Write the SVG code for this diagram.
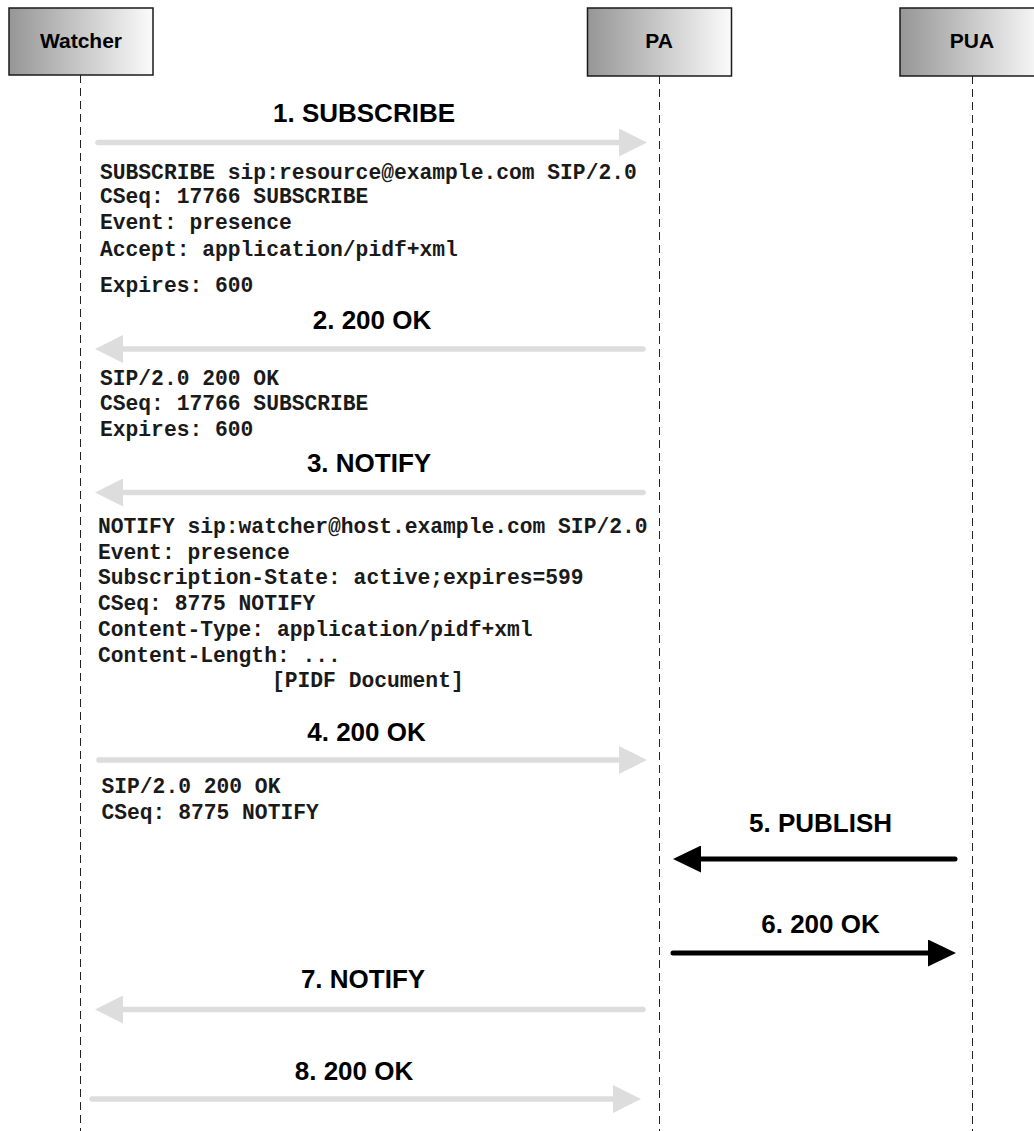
<svg xmlns="http://www.w3.org/2000/svg" width="1034" height="1131" viewBox="0 0 1034 1131">
<defs>
<linearGradient id="hdr" x1="0" y1="0" x2="1" y2="0">
<stop offset="0" stop-color="#969696"/>
<stop offset="1" stop-color="#fbfbfb"/>
</linearGradient>
<marker id="gh" viewBox="0 0 28 28" refX="0" refY="14" markerWidth="28" markerHeight="28" markerUnits="userSpaceOnUse" orient="auto">
<path d="M0,0 L28,14 L0,28 z" fill="#dddddd"/>
</marker>
<marker id="bh" viewBox="0 0 28 27" refX="0" refY="13.5" markerWidth="28" markerHeight="27" markerUnits="userSpaceOnUse" orient="auto">
<path d="M0,0 L28,13.5 L0,27 z" fill="#000"/>
</marker>
</defs>
<style>
.box{fill:url(#hdr);stroke:#1a1a1a;stroke-width:1.5}
.name{font-family:"Liberation Sans",Arial,sans-serif;font-weight:bold;font-size:21px;fill:#000;text-anchor:middle}
.life{stroke:#222;stroke-width:1;stroke-dasharray:8,5;fill:none}
.g{stroke:#dddddd;stroke-width:5.5;stroke-linecap:round;fill:none;marker-end:url(#gh)}
.b{stroke:#000;stroke-width:5;stroke-linecap:round;fill:none;marker-end:url(#bh)}
.lbl{font-family:"Liberation Sans",Arial,sans-serif;font-weight:bold;font-size:26px;fill:#000;text-anchor:middle}
.m{font-family:"Liberation Mono","Courier New",monospace;font-weight:bold;font-size:21.3px;fill:#1a1a1a}
</style>
<rect width="1034" height="1131" fill="#fff"/>
<g id="lifelines">
<line class="life" x1="80.5" y1="75" x2="80.5" y2="1131"/>
<line class="life" x1="659.5" y1="76" x2="659.5" y2="1131"/>
<line class="life" x1="972.5" y1="76" x2="972.5" y2="1131"/>
</g>
<g id="watcher">
<rect class="box" x="9" y="8" width="144" height="67"/>
<text class="name" x="81" y="47.5">Watcher</text>
</g>
<g id="pa">
<rect class="box" x="587.5" y="8" width="144" height="68"/>
<text class="name" x="659" y="48">PA</text>
</g>
<g id="pua">
<rect class="box" x="900" y="8" width="144" height="68"/>
<text class="name" x="972" y="48">PUA</text>
</g>
<g id="connectors">
<path class="g" d="M98,142.5 L619,142.5"/>
<path class="g" d="M643,349 L123,349"/>
<path class="g" d="M643,492.5 L123,492.5"/>
<path class="g" d="M99,760 L619,760"/>
<path class="b" d="M955,859 L701,859"/>
<path class="b" d="M673,953 L928,953"/>
<path class="g" d="M643,1009.5 L123,1009.5"/>
<path class="g" d="M92,1099 L613,1099"/>
</g>
<g id="labels">
<text class="lbl" x="364" y="122">1. SUBSCRIBE</text>
<text class="lbl" x="372" y="329">2. 200 OK</text>
<text class="lbl" x="369" y="472">3. NOTIFY</text>
<text class="lbl" x="366.5" y="741">4. 200 OK</text>
<text class="lbl" x="820.5" y="832">5. PUBLISH</text>
<text class="lbl" x="820.5" y="933">6. 200 OK</text>
<text class="lbl" x="363" y="988">7. NOTIFY</text>
<text class="lbl" x="354" y="1080">8. 200 OK</text>
</g>
<g id="msg1">
<text class="m" x="100" y="179">SUBSCRIBE sip:resource@example.com SIP/2.0</text>
<text class="m" x="100" y="203">CSeq: 17766 SUBSCRIBE</text>
<text class="m" x="100" y="229">Event: presence</text>
<text class="m" x="100" y="256">Accept: application/pidf+xml</text>
<text class="m" x="100" y="292">Expires: 600</text>
</g>
<g id="msg2">
<text class="m" x="100" y="385">SIP/2.0 200 OK</text>
<text class="m" x="100" y="410">CSeq: 17766 SUBSCRIBE</text>
<text class="m" x="100" y="436">Expires: 600</text>
</g>
<g id="msg3">
<text class="m" x="98" y="533">NOTIFY sip:watcher@host.example.com SIP/2.0</text>
<text class="m" x="98" y="559">Event: presence</text>
<text class="m" x="98" y="584">Subscription-State: active;expires=599</text>
<text class="m" x="98" y="610">CSeq: 8775 NOTIFY</text>
<text class="m" x="98" y="636">Content-Type: application/pidf+xml</text>
<text class="m" x="98" y="662">Content-Length: ...</text>
<text class="m" x="272" y="687">[PIDF Document]</text>
</g>
<g id="msg4">
<text class="m" x="101.5" y="793">SIP/2.0 200 OK</text>
<text class="m" x="101.5" y="819">CSeq: 8775 NOTIFY</text>
</g>
</svg>
